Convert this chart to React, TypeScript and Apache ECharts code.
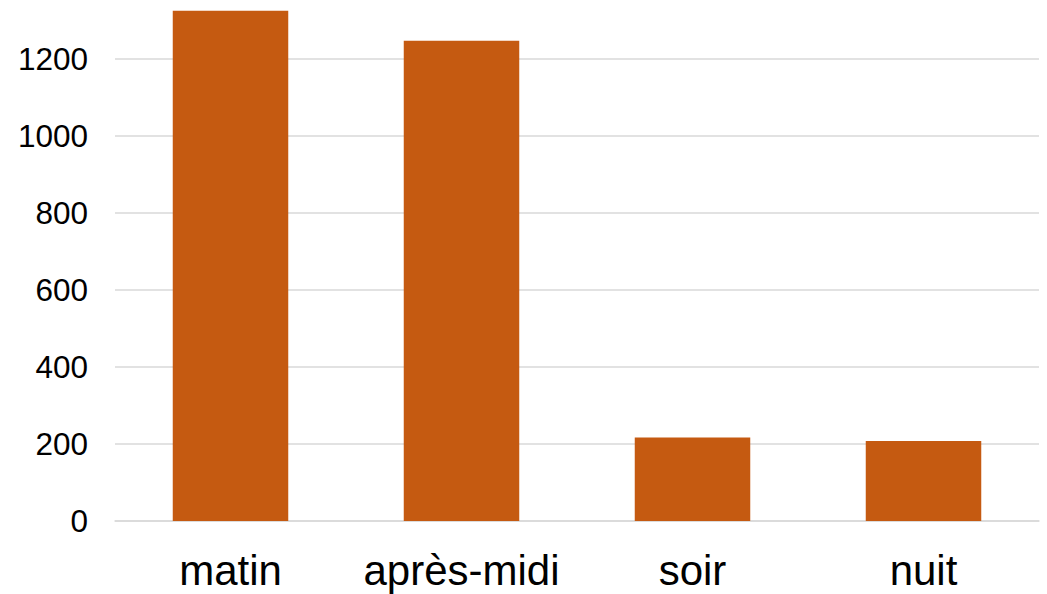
import React, { useEffect, useRef } from "react";
import * as echarts from "echarts";

const categories = ["matin", "après-midi", "soir", "nuit"];
const values = [1325, 1247, 217, 208];

export default function App() {
  const ref = useRef<HTMLDivElement>(null);
  useEffect(() => {
    const chart = echarts.init(ref.current!, undefined, { renderer: "svg" });
    chart.setOption({
      animation: false,
      grid: { left: 115, right: 8, top: 1, bottom: 73 },
      xAxis: {
        type: "category",
        data: categories,
        axisTick: { show: false },
        axisLine: { show: true, lineStyle: { color: "#d9d9d9", width: 1.5 } },
        axisLabel: {
          interval: 0,
          color: "#000",
          fontSize: 42,
          fontFamily: "Liberation Sans, Arial, sans-serif",
          margin: 28,
        },
      },
      yAxis: {
        type: "value",
        min: 0,
        max: 1350,
        interval: 200,
        axisLine: { show: false },
        axisTick: { show: false },
        splitLine: { showMaxLine: false, lineStyle: { color: "#d9d9d9", width: 1.5 } },
        axisLabel: {
          showMaxLabel: false,
          formatter: (v: number) => String(v),
          color: "#000",
          fontSize: 31.5,
          fontFamily: "Liberation Sans, Arial, sans-serif",
          margin: 27,
        },
      },
      series: [
        {
          type: "bar",
          data: values,
          barCategoryGap: "50%",
          itemStyle: { color: "#C55A11" },
        },
      ],
    });
    return () => chart.dispose();
  }, []);
  return (
    <div
      ref={ref}
      style={{ position: "absolute", left: 0, top: 0, width: 1047, height: 594, background: "#fff" }}
    />
  );
}
